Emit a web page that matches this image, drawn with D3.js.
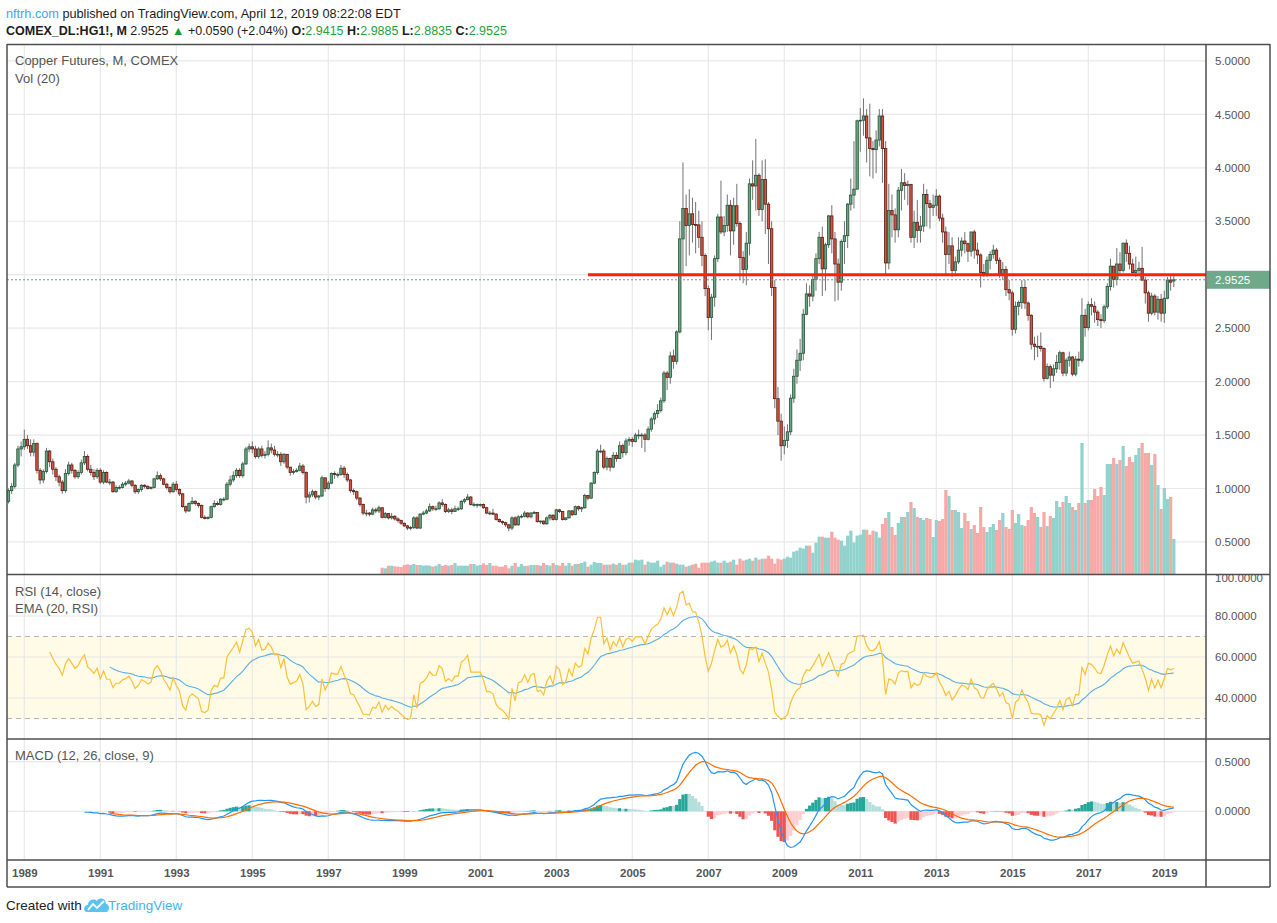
<!DOCTYPE html>
<html><head><meta charset="utf-8">
<script src="https://cdnjs.cloudflare.com/ajax/libs/d3/7.8.5/d3.min.js"></script>
<style>
body{margin:0;background:#fff;}
svg{display:block;font-family:"Liberation Sans",Arial,sans-serif;}
</style>
</head><body>
<svg id="c" width="1277" height="923"></svg>
<script>
// ---------------- DATA ----------------
const firstBar = {year:1988, month:7};   // first monthly bar: Jul 1988
// monthly closes, Jul 1988 .. Apr 2019
const closes = [
 0.88,0.98,1.02,1.22,1.37,1.39,
 1.46,1.40,1.34,1.42,1.17,1.08,1.16,1.35,1.25,1.18,1.11,1.06,
 0.98,1.14,1.22,1.17,1.11,1.15,1.24,1.30,1.18,1.15,1.11,1.17,
 1.06,1.15,1.06,1.06,0.97,1.01,1.01,1.04,1.05,1.07,1.03,0.97,
 0.99,1.03,1.02,1.00,1.01,1.09,1.12,1.09,1.04,1.01,0.97,1.04,
 0.99,0.95,0.83,0.79,0.86,0.88,0.86,0.84,0.73,0.72,0.73,0.83,
 0.86,0.85,0.90,0.90,1.04,1.08,1.12,1.17,1.12,1.23,1.37,1.39,
 1.37,1.30,1.37,1.31,1.32,1.38,1.36,1.32,1.32,1.25,1.32,1.20,
 1.15,1.16,1.17,1.21,1.15,0.92,0.94,0.97,0.92,0.93,1.10,1.00,
 1.05,1.14,1.13,1.13,1.19,1.13,1.08,0.98,0.97,0.91,0.85,0.77,
 0.77,0.76,0.80,0.79,0.82,0.73,0.765,0.725,0.74,0.715,0.70,0.675,
 0.65,0.63,0.635,0.725,0.63,0.76,0.77,0.79,0.83,0.81,0.81,0.865,
 0.85,0.785,0.80,0.785,0.81,0.81,0.88,0.895,0.92,0.85,0.85,0.85,
 0.85,0.82,0.77,0.77,0.76,0.71,0.69,0.68,0.66,0.63,0.725,0.66,
 0.735,0.74,0.77,0.735,0.77,0.775,0.69,0.695,0.67,0.725,0.75,0.71,
 0.80,0.785,0.71,0.725,0.79,0.755,0.83,0.81,0.82,0.935,0.91,1.05,
 1.15,1.35,1.35,1.20,1.28,1.20,1.31,1.28,1.40,1.335,1.445,1.46,
 1.44,1.50,1.50,1.50,1.46,1.555,1.65,1.70,1.73,1.82,2.08,2.04,
 2.24,2.19,2.465,3.335,3.62,3.46,3.57,3.47,3.466,3.35,3.18,2.87,
 2.60,2.79,3.15,3.54,3.40,3.46,3.65,3.41,3.645,3.48,3.16,3.05,
 3.295,3.85,3.83,3.93,3.61,3.89,3.66,3.43,2.88,1.84,1.63,1.40,
 1.45,1.53,1.845,2.05,2.20,2.265,2.63,2.82,2.80,2.955,3.15,3.35,
 3.055,3.28,3.55,3.335,3.10,2.93,3.31,3.365,3.66,3.745,3.80,4.44,
 4.445,4.485,4.28,4.18,4.17,4.26,4.485,4.18,3.11,3.60,3.56,3.42,
 3.79,3.86,3.835,3.845,3.35,3.49,3.415,3.455,3.75,3.665,3.63,3.65,
 3.735,3.53,3.40,3.19,3.27,3.04,3.12,3.23,3.315,3.29,3.22,3.40,
 3.23,3.185,3.02,3.01,3.135,3.19,3.23,3.135,3.005,3.05,2.86,2.83,
 2.49,2.705,2.74,2.88,2.735,2.62,2.35,2.33,2.33,2.31,2.03,2.14,
 2.06,2.12,2.18,2.27,2.08,2.20,2.23,2.07,2.21,2.20,2.62,2.505,
 2.72,2.705,2.65,2.58,2.57,2.70,2.89,3.08,2.955,3.10,3.04,3.295,
 3.20,3.10,3.02,3.04,3.06,2.95,2.83,2.64,2.80,2.65,2.77,2.64,
 2.78,2.95,2.93,2.9525
];
const highs = [
 0.92,1.00,1.05,1.24,1.40,1.44,
 1.55,1.50,1.46,1.46,1.43,1.19,1.18,1.38,1.36,1.28,1.20,1.13,
 1.08,1.18,1.25,1.24,1.18,1.17,1.27,1.35,1.32,1.22,1.18,1.19,
 1.19,1.17,1.16,1.09,1.07,1.03,1.03,1.06,1.07,1.09,1.08,1.04,
 1.00,1.04,1.04,1.03,1.02,1.10,1.16,1.14,1.10,1.05,1.02,1.06,
 1.07,1.00,0.96,0.84,0.87,0.92,0.89,0.87,0.85,0.75,0.74,0.84,
 0.89,0.88,0.91,0.92,1.06,1.12,1.16,1.19,1.19,1.25,1.39,1.42,
 1.44,1.40,1.39,1.40,1.35,1.45,1.42,1.40,1.35,1.34,1.33,1.32,
 1.20,1.18,1.19,1.24,1.23,1.16,0.97,0.99,0.98,0.94,1.12,1.10,
 1.07,1.15,1.16,1.15,1.22,1.21,1.15,1.09,1.00,0.98,0.92,0.86,
 0.80,0.78,0.82,0.82,0.84,0.82,0.78,0.77,0.77,0.75,0.73,0.71,
 0.68,0.66,0.65,0.74,0.74,0.77,0.79,0.81,0.86,0.84,0.84,0.88,
 0.90,0.86,0.82,0.82,0.84,0.83,0.89,0.91,0.95,0.93,0.87,0.86,
 0.86,0.86,0.83,0.79,0.81,0.77,0.72,0.70,0.69,0.67,0.74,0.74,
 0.75,0.76,0.79,0.78,0.78,0.79,0.78,0.70,0.70,0.74,0.76,0.76,
 0.81,0.81,0.79,0.73,0.80,0.80,0.84,0.84,0.83,0.95,0.94,1.06,
 1.16,1.37,1.41,1.37,1.30,1.29,1.34,1.34,1.44,1.42,1.47,1.48,
 1.48,1.52,1.55,1.52,1.52,1.58,1.67,1.72,1.79,1.85,2.10,2.10,
 2.28,2.30,2.48,3.50,4.05,3.75,3.80,3.72,3.68,3.60,3.50,3.20,
 2.90,2.82,3.18,3.57,3.88,3.55,3.75,3.70,3.72,3.85,3.50,3.22,
 3.40,3.90,4.07,4.27,3.95,4.07,4.08,3.68,3.50,2.95,1.95,1.70,
 1.58,1.60,1.88,2.12,2.30,2.40,2.68,2.92,2.90,3.00,3.20,3.40,
 3.45,3.30,3.56,3.65,3.40,3.15,3.33,3.50,3.67,3.90,4.25,4.45,
 4.56,4.65,4.55,4.60,4.25,4.35,4.55,4.55,4.25,3.85,3.75,3.62,
 3.82,3.99,3.95,3.88,3.85,3.60,3.70,3.55,3.85,3.80,3.70,3.75,
 3.80,3.75,3.57,3.45,3.40,3.35,3.17,3.35,3.35,3.40,3.30,3.40,
 3.42,3.30,3.20,3.10,3.17,3.22,3.28,3.25,3.16,3.12,3.08,2.95,
 2.85,2.75,2.76,2.95,2.95,2.75,2.63,2.42,2.43,2.46,2.32,2.17,
 2.16,2.16,2.25,2.29,2.28,2.22,2.28,2.24,2.24,2.28,2.78,2.68,
 2.75,2.78,2.75,2.67,2.63,2.72,2.92,3.15,3.08,3.25,3.21,3.30,
 3.33,3.27,3.15,3.17,3.12,3.26,2.98,2.85,2.83,2.82,2.80,2.82,
 2.85,2.98,2.99,2.9885
];
const lows = [
 0.85,0.86,0.95,1.00,1.20,1.30,
 1.36,1.37,1.30,1.30,1.14,1.04,1.05,1.14,1.20,1.13,1.07,1.02,
 0.95,0.96,1.12,1.14,1.09,1.09,1.13,1.22,1.16,1.12,1.08,1.09,
 1.04,1.04,1.05,1.03,0.96,0.96,0.99,1.00,1.02,1.04,1.01,0.95,
 0.95,0.97,1.00,0.99,0.99,1.00,1.08,1.07,1.03,0.99,0.95,0.96,
 0.97,0.93,0.82,0.77,0.78,0.85,0.84,0.82,0.72,0.71,0.71,0.72,
 0.82,0.84,0.84,0.88,0.89,1.02,1.06,1.10,1.10,1.10,1.22,1.34,
 1.33,1.28,1.28,1.29,1.28,1.30,1.33,1.30,1.29,1.21,1.23,1.18,
 1.12,1.13,1.15,1.16,1.13,0.86,0.87,0.92,0.90,0.89,0.92,0.97,
 0.99,1.04,1.09,1.10,1.12,1.10,1.06,0.96,0.94,0.89,0.83,0.75,
 0.74,0.74,0.75,0.77,0.77,0.72,0.72,0.71,0.71,0.70,0.68,0.66,
 0.64,0.61,0.61,0.62,0.62,0.62,0.75,0.76,0.78,0.79,0.79,0.80,
 0.83,0.77,0.77,0.76,0.78,0.79,0.80,0.86,0.89,0.84,0.83,0.82,
 0.83,0.81,0.76,0.75,0.75,0.70,0.68,0.66,0.64,0.60,0.61,0.65,
 0.65,0.72,0.73,0.72,0.72,0.76,0.68,0.67,0.66,0.66,0.70,0.70,
 0.70,0.77,0.70,0.70,0.72,0.74,0.75,0.79,0.78,0.81,0.89,0.90,
 1.04,1.13,1.33,1.18,1.17,1.16,1.19,1.25,1.28,1.29,1.31,1.40,
 1.39,1.43,1.46,1.38,1.34,1.45,1.53,1.60,1.66,1.71,1.80,1.92,
 1.98,2.12,2.16,2.45,3.00,3.08,3.18,3.30,3.20,3.25,3.08,2.80,
 2.48,2.39,2.70,3.12,3.38,3.36,3.40,3.18,3.28,3.45,2.95,2.92,
 2.90,3.18,3.70,3.60,3.55,3.50,3.38,3.10,2.80,1.75,1.50,1.26,
 1.32,1.38,1.50,1.80,1.98,2.10,2.20,2.62,2.70,2.75,2.85,3.10,
 2.80,2.85,3.25,3.20,2.75,2.76,2.85,3.10,3.25,3.60,3.62,3.80,
 4.15,4.30,4.05,3.92,3.90,3.95,4.20,3.86,3.00,3.05,3.35,3.30,
 3.35,3.60,3.70,3.65,3.30,3.25,3.30,3.30,3.40,3.45,3.43,3.55,
 3.55,3.50,3.30,3.00,3.10,2.98,3.00,3.10,3.17,3.20,3.12,3.17,
 3.15,3.10,2.88,2.98,2.98,3.05,3.15,3.10,2.97,2.95,2.80,2.76,
 2.43,2.45,2.62,2.68,2.68,2.57,2.30,2.20,2.23,2.28,2.00,2.02,
 1.94,2.00,2.08,2.11,2.05,2.05,2.14,2.05,2.05,2.14,2.18,2.42,
 2.48,2.62,2.55,2.52,2.50,2.55,2.68,2.85,2.88,2.90,2.99,3.02,
 3.12,3.05,2.99,2.98,3.01,2.94,2.73,2.56,2.62,2.62,2.58,2.56,
 2.55,2.77,2.85,2.8835
];
// monthly volume (thousand contracts), Jun 1998 .. Apr 2019 (aligned to the last bar)
const volumes = [
 95,85,125,125,115,110,105,135,145,135,150,135,135,125,130,125,110,125,150,125,
 135,125,135,165,125,125,125,125,150,150,125,135,160,135,165,125,125,110,110,135,
 85,125,165,110,150,120,125,135,135,135,125,165,135,125,165,135,125,165,125,165,
 125,150,150,
 165,185,110,140,180,165,165,140,140,140,155,140,165,140,140,170,170,215,205,215,
 140,185,170,170,200,110,140,185,170,170,155,140,140,110,125,140,155,95,170,170,
 170,185,200,170,170,200,170,185,215,140,230,200,215,230,200,245,215,230,230,275,
 230,155,230,215,230,260,245,335,350,395,380,425,425,320,470,560,560,545,545,635,
 545,515,500,425,575,650,470,575,590,665,665,590,650,635,545,
 750,840,930,705,585,765,855,855,930,1080,990,855,840,810,840,825,555,810,795,825,
 1260,1170,960,960,930,690,915,795,675,735,615,1005,705,630,705,750,660,810,915,705,
 675,960,765,900,735,720,810,1005,915,855,705,930,720,870,840,1095,1005,1080,1170,1065,
 1005,960,1065,1965,1065,1110,1110,1275,1170,1305,1185,1650,1650,1740,1650,1710,1920,1620,1755,1680,
 1785,1890,1965,1815,1815,1635,1800,1335,975,1290,1125,1155,525
];
const lastBar = {open:2.9415, high:2.9885, low:2.8835, close:2.9525, change:0.0590, pct:2.04};
const yearTicks = [1989,1991,1993,1995,1997,1999,2001,2003,2005,2007,2009,2011,2013,2015,2017,2019];
const priceTicks = [0.5,1.0,1.5,2.0,2.5,3.0,3.5,4.0,4.5,5.0];
const rsiTicks = [40,60,80,100];
const rsiBands = [30,70];
const macdTicks = [0,0.5];
const resistance = {level:3.0, fromYear:2003, fromMonth:11};

// ---------------- LAYOUT ----------------
const svg = d3.select("#c");
const X0 = 7, X1 = 1206, XR = 1270;
const PP = [45,574], RP = [575,739], MP = [739,860], TP = [860,887];
const mIdx = (y,m) => (y-firstBar.year)*12 + (m-firstBar.month);
const n = closes.length;
const opens = closes.map((c,i)=> i===0 ? c : closes[i-1]);
opens[n-1] = lastBar.open;

const x = d3.scaleLinear().domain([mIdx(1989,1), mIdx(2019,1)]).range([24.3,1164.3]);
const yP = d3.scaleLinear().domain([0.2,5.149]).range([PP[1],PP[0]]);
const yR = d3.scaleLinear().domain([20,100]).range([RP[1],RP[0]]);
const yM = d3.scaleLinear().domain([-0.491,0.729]).range([MP[1],MP[0]]);
const yV = d3.scaleLinear().domain([0,d3.max(volumes)]).range([PP[1],PP[1]-131]);
const step = x(1)-x(0);

// clip paths
const defs = svg.append("defs");
[["cp",PP],["cr",RP],["cm",MP]].forEach(([id,p])=>{
  defs.append("clipPath").attr("id",id).append("rect")
    .attr("x",X0).attr("y",p[0]).attr("width",X1-X0).attr("height",p[1]-p[0]);
});

const gridC = "#e8e8e8";
// RSI band
svg.append("rect").attr("x",X0).attr("width",X1-X0)
  .attr("y",yR(rsiBands[1])).attr("height",yR(rsiBands[0])-yR(rsiBands[1]))
  .attr("fill","#fffbe6");

// grid
const grid = svg.append("g");
yearTicks.forEach(yr=>{
  const xx = x(mIdx(yr,1));
  grid.append("line").attr("x1",xx).attr("x2",xx).attr("y1",PP[0]).attr("y2",MP[1])
    .attr("stroke",gridC).attr("stroke-width",1.2);
});
priceTicks.forEach(p=>grid.append("line").attr("x1",X0).attr("x2",X1).attr("y1",yP(p)).attr("y2",yP(p)).attr("stroke",gridC).attr("stroke-width",1.2));
rsiTicks.filter(t=>t<100).forEach(t=>grid.append("line").attr("x1",X0).attr("x2",X1).attr("y1",yR(t)).attr("y2",yR(t)).attr("stroke",gridC).attr("stroke-width",1.2));
macdTicks.forEach(t=>grid.append("line").attr("x1",X0).attr("x2",X1).attr("y1",yM(t)).attr("y2",yM(t)).attr("stroke",gridC).attr("stroke-width",1.2));

// ---------------- PRICE PANE ----------------
const gP = svg.append("g").attr("clip-path","url(#cp)");
const v0 = n - volumes.length;
gP.selectAll("rect.vol").data(volumes).join("rect")
  .attr("x",(d,k)=>x(v0+k)-step/2).attr("width",step+0.05)
  .attr("y",d=>yV(d)).attr("height",d=>PP[1]-yV(d))
  .attr("fill",(d,k)=>{const i=v0+k; return closes[i]>=opens[i] ? "#92d2cc" : "#f7a9a7";});

const bars = d3.range(n);
gP.selectAll("line.wick").data(bars).join("line")
  .attr("x1",i=>x(i)).attr("x2",i=>x(i))
  .attr("y1",i=>yP(Math.max(highs[i],opens[i],closes[i])))
  .attr("y2",i=>yP(Math.min(lows[i],opens[i],closes[i])))
  .attr("stroke","#737375").attr("stroke-width",1);
const bw = 2.4;
gP.selectAll("rect.body").data(bars).join("rect")
  .attr("x",i=>x(i)-bw/2).attr("width",bw)
  .attr("y",i=>yP(Math.max(opens[i],closes[i])))
  .attr("height",i=>Math.max(0.8,Math.abs(yP(opens[i])-yP(closes[i]))))
  .attr("fill",i=>closes[i]>=opens[i]?"#6ba583":"#d75442")
  .attr("stroke",i=>closes[i]>=opens[i]?"#225437":"#5b1a13")
  .attr("stroke-width",0.8);

// current price line
gP.append("line").attr("x1",X0).attr("x2",X1).attr("y1",yP(lastBar.close)).attr("y2",yP(lastBar.close))
  .attr("stroke","#6f9a82").attr("stroke-width",1).attr("stroke-dasharray","2,2");
// resistance drawing
gP.append("line").attr("x1",x(mIdx(resistance.fromYear,resistance.fromMonth))).attr("x2",X1)
  .attr("y1",yP(resistance.level)).attr("y2",yP(resistance.level))
  .attr("stroke","#ff2200").attr("stroke-width",3);

// ---------------- INDICATORS ----------------
function ema(src,len){
  const out = new Array(src.length).fill(null);
  const f = src.findIndex(v=>v!==null);
  if (f<0) return out;
  const s = f+len-1; if (s>=src.length) return out;
  out[s] = d3.mean(src.slice(f,s+1));
  const a = 2/(len+1);
  for(let i=s+1;i<src.length;i++) out[i] = a*src[i] + (1-a)*out[i-1];
  return out;
}
function rsi(src,len){
  const out = new Array(src.length).fill(null);
  let g=0,l=0;
  for(let i=1;i<=len;i++){const c=src[i]-src[i-1]; g+=Math.max(c,0); l+=Math.max(-c,0);}
  g/=len; l/=len;
  out[len] = l===0?100:100-100/(1+g/l);
  for(let i=len+1;i<src.length;i++){
    const c=src[i]-src[i-1];
    g=(g*(len-1)+Math.max(c,0))/len; l=(l*(len-1)+Math.max(-c,0))/len;
    out[i] = l===0?100:100-100/(1+g/l);
  }
  return out;
}
const rsiV = rsi(closes,14);
const rsiE = ema(rsiV,20);
const e12 = ema(closes,12), e26 = ema(closes,26);
const macd = closes.map((c,i)=> (e12[i]!==null && e26[i]!==null) ? e12[i]-e26[i] : null);
const sig = ema(macd,9);
const hist = macd.map((m,i)=> (m!==null && sig[i]!==null) ? m-sig[i] : null);

// RSI pane
const gR = svg.append("g").attr("clip-path","url(#cr)");
rsiBands.forEach(b=>gR.append("line").attr("x1",X0).attr("x2",X1).attr("y1",yR(b)).attr("y2",yR(b))
  .attr("stroke","#b5b5b5").attr("stroke-width",1.2).attr("stroke-dasharray","5,4"));
const lineR = d3.line().defined(d=>d.v!==null).x(d=>x(d.i)).y(d=>yR(d.v));
gR.append("path").datum(rsiE.map((v,i)=>({i,v}))).attr("d",lineR)
  .attr("fill","none").attr("stroke","#5aaee6").attr("stroke-width",1.1);
gR.append("path").datum(rsiV.map((v,i)=>({i,v}))).attr("d",lineR)
  .attr("fill","none").attr("stroke","#f9c13a").attr("stroke-width",1.2);

// MACD pane
const gM = svg.append("g").attr("clip-path","url(#cm)");
gM.selectAll("rect.h").data(bars.filter(i=>hist[i]!==null)).join("rect")
  .attr("x",i=>x(i)-step/2).attr("width",step+0.05)
  .attr("y",i=>Math.min(yM(0),yM(hist[i]))).attr("height",i=>Math.abs(yM(hist[i])-yM(0)))
  .attr("fill",i=>{
    const h=hist[i], p=hist[i-1]===null?h:hist[i-1];
    return h>=0 ? (p<h?"#26a69a":"#b2dfdb") : (p<h?"#ffcdd2":"#ef5350");
  });
const lineM = d3.line().defined(d=>d.v!==null).x(d=>x(d.i)).y(d=>yM(d.v));
gM.append("path").datum(macd.map((v,i)=>({i,v}))).attr("d",lineM)
  .attr("fill","none").attr("stroke","#2196f3").attr("stroke-width",1.2);
gM.append("path").datum(sig.map((v,i)=>({i,v}))).attr("d",lineM)
  .attr("fill","none").attr("stroke","#ff6d00").attr("stroke-width",1.2);

// ---------------- AXES ----------------
function styleAxis(g,bold){
  g.select(".domain").remove();
  g.selectAll("text").attr("fill","#555").attr("font-size","11.5px")
   .attr("font-family","'Liberation Sans',Arial,sans-serif").attr("font-weight",bold?"bold":"normal");
}
const fmt = d3.format(".4f");
const yl = yP(lastBar.close);
// price labels hidden under the last-price marker are not shown (as in the reference)
const visiblePriceTicks = priceTicks.filter(p=>Math.abs(yP(p)-yl)>14);
svg.append("g").attr("transform",`translate(${X1},0)`)
  .call(d3.axisRight(yP).tickValues(visiblePriceTicks).tickFormat(fmt).tickSize(0).tickPadding(9))
  .call(g=>styleAxis(g,false));
svg.append("g").attr("transform",`translate(${X1},0)`)
  .call(d3.axisRight(yR).tickValues(rsiTicks).tickFormat(fmt).tickSize(0).tickPadding(9))
  .call(g=>styleAxis(g,false))
  .call(g=>g.selectAll(".tick").filter(d=>d===100).attr("transform",`translate(0,${yR(100)+3})`));
svg.append("g").attr("transform",`translate(${X1},0)`)
  .call(d3.axisRight(yM).tickValues(macdTicks).tickFormat(fmt).tickSize(0).tickPadding(9))
  .call(g=>styleAxis(g,false));
svg.append("g").attr("transform",`translate(0,${TP[0]})`)
  .call(d3.axisBottom(x).tickValues(yearTicks.map(y=>mIdx(y,1))).tickFormat((d,k)=>yearTicks[k]).tickSize(0).tickPadding(9))
  .call(g=>styleAxis(g,true));

// last price label
svg.append("rect").attr("x",X1+1).attr("y",yl-9).attr("width",XR-X1-1).attr("height",18).attr("fill","#6fa98a");
svg.append("text").attr("x",X1+9).attr("y",yl+4).attr("fill","#fff").attr("font-size","11.5px").text(fmt(lastBar.close));

// ---------------- FRAME ----------------
const fc = "#4e4e4e";
const fl = (x1,y1,x2,y2)=>svg.append("line").attr("x1",x1).attr("y1",y1).attr("x2",x2).attr("y2",y2).attr("stroke",fc).attr("stroke-width",1.5);
fl(X0,44.5,XR,44.5); fl(X0,TP[1],XR,TP[1]);
fl(X0,44,X0,TP[1]); fl(XR,44,XR,TP[1]); fl(X1,44,X1,TP[1]);
fl(X0,PP[1]+0.5,XR,PP[1]+0.5); fl(X0,MP[0],XR,MP[0]); fl(X0,MP[1],XR,MP[1]);

// ---------------- TEXTS ----------------
function txt(x0,y0,s,opt={}){
  const t = svg.append("text").attr("x",x0).attr("y",y0).text(s)
    .attr("font-size",opt.size||"13px").attr("fill",opt.fill||"#222")
    .attr("font-weight",opt.weight||"normal");
  if(opt.len){t.attr("textLength",opt.len).attr("lengthAdjust","spacingAndGlyphs");}
  return t;
}
// header line 1
const h1 = svg.append("text").attr("x",6).attr("y",18).attr("font-size","12.7px").attr("fill","#1c1c1c");
h1.append("tspan").attr("fill","#3aa8ea").text("nftrh.com");
h1.append("tspan").text(" published on TradingView.com, April 12, 2019 08:22:08 EDT");
// header line 2
const G = "#1fa23a";
const h2 = svg.append("text").attr("x",6).attr("y",35).attr("font-size","12.5px").attr("fill","#1c1c1c");
h2.append("tspan").attr("font-weight","bold").text("COMEX_DL:HG1!, M");
h2.append("tspan").text("  2.9525 ");
h2.append("tspan").attr("fill","#1a9a33").text("▲");
h2.append("tspan").text(" +0.0590 (+2.04%) ");
[["O:",lastBar.open],["H:",lastBar.high],["L:",lastBar.low],["C:",lastBar.close]].forEach(([k,v],j)=>{
  h2.append("tspan").attr("font-weight","bold").text((j?" ":"")+k);
  h2.append("tspan").attr("fill",G).text(fmt(v));
});

txt(15,65,"Copper Futures, M, COMEX",{fill:"#555",size:"13px"});
txt(15,83,"Vol (20)",{fill:"#555",size:"13px"});
txt(15,596,"RSI (14, close)",{fill:"#555",size:"13px"});
txt(15,613,"EMA (20, RSI)",{fill:"#555",size:"13px"});
txt(15,760,"MACD (12, 26, close, 9)",{fill:"#555",size:"13px"});

// footer
txt(6,910,"Created with",{fill:"#222",size:"13.5px"});
const logo = svg.append("g").attr("transform","translate(84,896)");
logo.append("path").attr("d","M3,16 C-1,16 -1,9 4,9 C4,4 10,2 13,5 C15,1 22,2 22,8 C26,8 26,16 22,16 Z").attr("fill","#5bc3ee");
logo.append("path").attr("d","M4,14 L9,8 L13,12 L20,5").attr("fill","none").attr("stroke","#fff").attr("stroke-width",1.8);
txt(108,910,"TradingView",{fill:"#3db5ec",size:"13.5px"});
</script>
</body></html>
